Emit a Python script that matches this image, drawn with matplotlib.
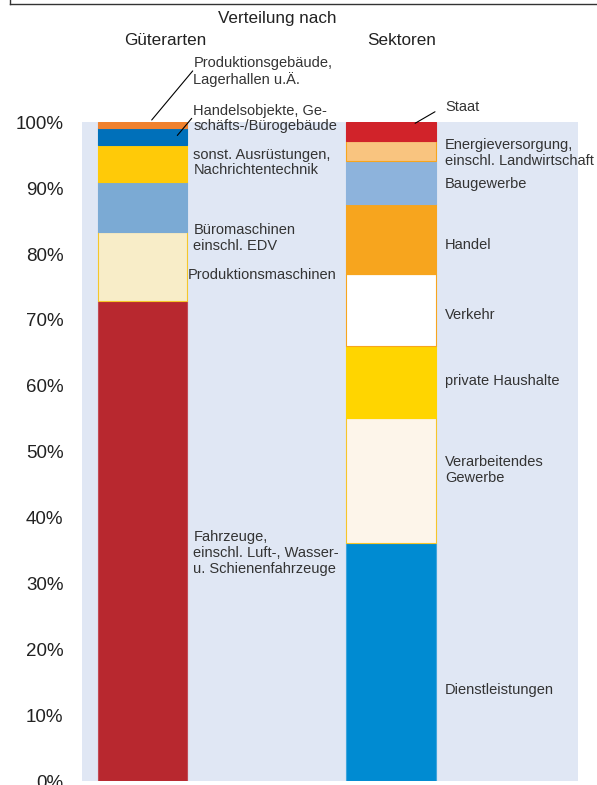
import matplotlib.pyplot as plt
from matplotlib.lines import Line2D
import numpy as np

plt.rcParams['font.family'] = ['Liberation Sans', 'DejaVu Sans']

# Verteilung nach Gueterarten (von unten nach oben), Anteile in %
gueter_labels = ["Fahrzeuge,\neinschl. Luft-, Wasser-\nu. Schienenfahrzeuge",
                 "Produktionsmaschinen",
                 "Büromaschinen\neinschl. EDV",
                 "sonst. Ausrüstungen,\nNachrichtentechnik",
                 "Handelsobjekte, Ge-\nschäfts-/Bürogebäude",
                 "Produktionsgebäude,\nLagerhallen u.Ä."]
gueter_values = [72.8, 10.5, 7.7, 5.6, 2.5, 0.9]

# Verteilung nach Sektoren (von unten nach oben), Anteile in %
sektor_labels = ["Dienstleistungen",
                 "Verarbeitendes\nGewerbe",
                 "private Haushalte",
                 "Verkehr",
                 "Handel",
                 "Baugewerbe",
                 "Energieversorgung,\neinschl. Landwirtschaft",
                 "Staat"]
sektor_values = [36.2, 18.9, 11.0, 10.8, 10.7, 6.6, 2.9, 2.9]

gueter_colors = ['#B8282F', '#F8EDC8', '#7BAAD4', '#FFCA08', '#0070BA', '#F0822F']
gueter_edges = ['#C24A55', '#F5C72A', '#7BAAD4', '#FFCA08', '#0070BA', '#F0822F']
sektor_colors = ['#008BD2', '#FDF5EA', '#FFD500', '#FFFFFF', '#F7A51E', '#8DB3DC', '#F9C47F', '#D1232A']
sektor_edges = ['#3FA5DD', '#F7C52A', '#FFD500', '#F7A51E', '#F7A51E', '#8DB3DC', '#F7A51E', '#D1232A']

# label heights (in %) and x offsets
gueter_label_y = [34.6, 76.8, 82.4, 93.9, 100.6, 107.7]
gueter_label_x = [0.205, 0.184, 0.205, 0.205, 0.205, 0.205]
sektor_label_y = [13.8, 47.2, 60.8, 70.8, 81.4, 90.7, 95.3, 102.3]

fig = plt.figure(figsize=(5.97, 7.85), dpi=100)
ax = fig.add_axes([82.3 / 597, 4 / 785, 495.2 / 597, 658.7 / 785])
ax.set_facecolor('#E0E7F4')

width = 0.362
bottom = 0.0
for v, c, e in zip(gueter_values, gueter_colors, gueter_edges):
    ax.bar(0, v, width, bottom=bottom, color=c, edgecolor=e, linewidth=0.8)
    bottom += v
bottom = 0.0
for v, c, e in zip(sektor_values, sektor_colors, sektor_edges):
    ax.bar(1, v, width, bottom=bottom, color=c, edgecolor=e, linewidth=0.8)
    bottom += v

txt = dict(fontsize=10.5, color='#333333', va='center', ha='left', linespacing=1.15)
for lab, y, x in zip(gueter_labels, gueter_label_y, gueter_label_x):
    ax.text(x, y, lab, **txt)
for lab, y in zip(sektor_labels, sektor_label_y):
    ax.text(1.217, y, lab, **txt)

# leader lines
cum_g = np.cumsum(gueter_values)
cum_s = np.cumsum(sektor_values)
line = dict(arrowstyle='-', color='black', lw=0.8, shrinkA=0, shrinkB=0)
ax.annotate('', xy=(0.037, cum_g[-1] + 0.35), xytext=(0.202, 107.8), arrowprops=line, annotation_clip=False)
ax.annotate('', xy=(0.140, cum_g[-3] + 1.4), xytext=(0.198, 100.6), arrowprops=line, annotation_clip=False)
ax.annotate('', xy=(1.097, cum_s[-1] - 0.15), xytext=(1.177, 101.6), arrowprops=line, annotation_clip=False)

ax.set_xlim(-0.2423, 1.7505)
ax.set_ylim(0, 100)
ax.set_xticks([])
ax.set_yticks(np.arange(0, 101, 10))
ax.set_yticklabels([f"{t}%" for t in range(0, 101, 10)], fontsize=13.5, color='#222222')
ax.tick_params(axis='y', length=0, pad=13.5)
for s in ax.spines.values():
    s.set_visible(False)

# headings
fig.text(277.5 / 597, 1 - 18.5 / 785, "Verteilung nach", fontsize=12.3, color='#222222', ha='center', va='center')
fig.text(165 / 597, 1 - 40.5 / 785, "Güterarten", fontsize=12.3, color='#222222', ha='center', va='center')
fig.text(402 / 597, 1 - 40.5 / 785, "Sektoren", fontsize=12.3, color='#222222', ha='center', va='center')

# frame remnant at the top
fig.add_artist(Line2D([10 / 597, 1], [1 - 4 / 785, 1 - 4 / 785], color='#333333', lw=1))
fig.add_artist(Line2D([10 / 597, 10 / 597], [1 - 4 / 785, 1], color='#333333', lw=1))

fig.savefig('out.png', dpi=100)
